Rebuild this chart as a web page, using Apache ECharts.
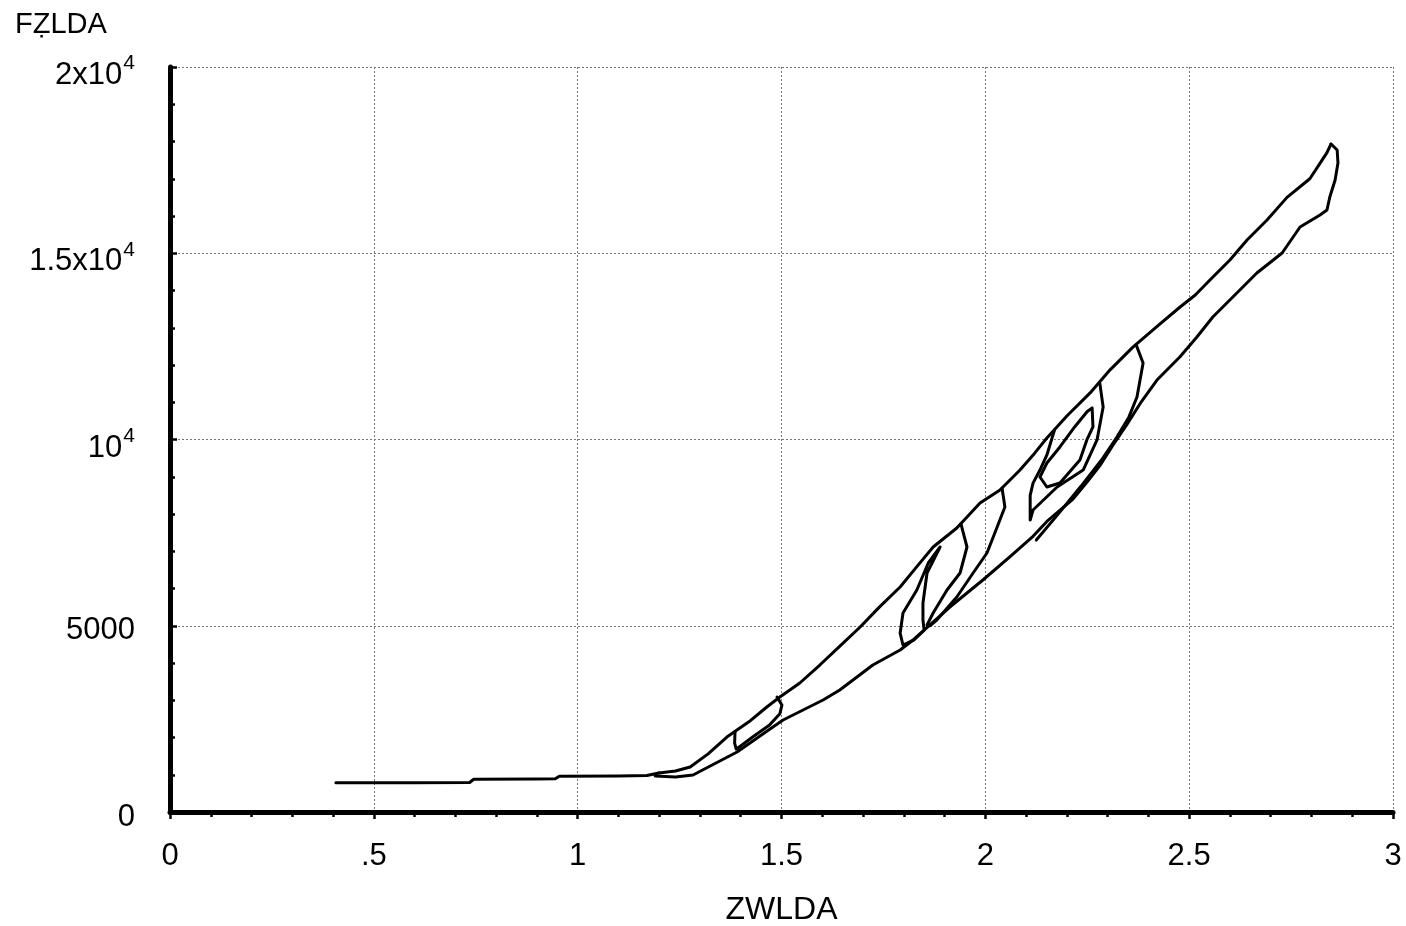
<!DOCTYPE html>
<html>
<head>
<meta charset="utf-8">
<script src="https://cdn.jsdelivr.net/npm/echarts@6/dist/echarts.min.js"></script>
<style>
html,body{margin:0;padding:0;background:#fff;}
#chart{width:1406px;height:926px;}
</style>
</head>
<body>
<div id="chart"></div>
<script>
// ---- data (ZWLDA, FZLDA) ----
const xTicks = [0, 0.5, 1, 1.5, 2, 2.5, 3];
const xTickLabels = ['0', '.5', '1', '1.5', '2', '2.5', '3'];
const yTicks = [0, 5000, 10000, 15000, 20000];
const yTickLabels = ['0', '5000', '{m|10}{s|4}', '{m|1.5x10}{s|4}', '{m|2x10}{s|4}'];

const baseFlat = [[0.407,785],[0.60,788],[0.735,792],[0.745,880],[0.90,886],[0.945,892],[0.955,962],[1.10,968],[1.17,978],[1.199,1047]];
const upperBranch = [[1.199,1047],[1.240,1100],[1.276,1208],[1.320,1560],[1.366,2013],[1.420,2420],[1.464,2819],[1.496,3087],[1.545,3463],[1.594,3946],[1.640,4420],[1.693,4967],[1.740,5500],[1.791,6040],[1.830,6560],[1.872,7114],[1.930,7624],[1.987,8295],[2.036,8644],[2.085,9181],[2.120,9620],[2.151,10040],[2.200,10630],[2.257,11250],[2.306,11870],[2.362,12480],[2.425,13070],[2.477,13550],[2.515,13880],[2.551,14282],[2.600,14819],[2.642,15356],[2.691,15893],[2.740,16500],[2.796,17000],[2.820,17400],[2.838,17700],[2.848,17933]];
const lowerBranch = [[2.848,17933],[2.863,17772],[2.865,17423],[2.858,16967],[2.845,16510],[2.838,16161],[2.821,16027],[2.772,15705],[2.728,15007],[2.666,14470],[2.617,13933],[2.558,13289],[2.519,12752],[2.477,12215],[2.421,11597],[2.383,11020],[2.347,10400],[2.313,9850],[2.281,9300],[2.249,8850],[2.215,8400],[2.151,7800],[2.117,7400],[2.060,6846],[1.994,6228],[1.913,5503],[1.823,4618],[1.791,4349],[1.724,3946],[1.643,3275],[1.602,3007],[1.504,2470],[1.479,2282],[1.391,1611],[1.283,993],[1.240,940],[1.19,968]];
const loop1 = [[1.489,3087],[1.501,2870],[1.496,2640],[1.470,2330],[1.430,2020],[1.398,1760],[1.389,1690],[1.385,1850],[1.386,2150]];
const loop2 = [[1.889,7114],[1.860,6685],[1.832,5960],[1.798,5342],[1.791,4800],[1.798,4483],[1.825,4620],[1.850,4880],[1.847,5154],[1.847,5611],[1.857,6416],[1.889,7114]];
const loop3 = [[1.940,7740],[1.955,7114],[1.938,6416],[1.906,5960],[1.872,5342],[1.857,5020]];
const loop4 = [[2.041,8700],[2.048,8188],[2.029,7651],[2.004,6953],[1.970,6416],[1.930,5772],[1.881,5154],[1.864,5000]];
const loop5 = [[2.281,11500],[2.289,10873],[2.274,9987],[2.240,9181],[2.176,8725],[2.117,8107],[2.110,7839],[2.110,8500],[2.117,8830],[2.134,9180],[2.151,9584],[2.170,10270]];
const loop6 = [[2.262,10846],[2.264,10336],[2.249,9987],[2.232,9450],[2.183,8832],[2.151,8725],[2.134,8993],[2.151,9369],[2.183,9800],[2.220,10350],[2.250,10750],[2.262,10846]];
const loop7 = [[2.370,12540],[2.387,12054],[2.372,11141],[2.352,10600],[2.322,10050],[2.285,9450],[2.235,8750],[2.175,7950],[2.125,7300]];

const paths = [baseFlat, upperBranch, lowerBranch, loop1, loop2, loop3, loop4, loop5, loop6, loop7];

const chart = echarts.init(document.getElementById('chart'), null, {renderer: 'canvas'});
const FONT = '"Liberation Sans", Arial, Helvetica, sans-serif';
const axisColor = '#000';

const option = {
  animation: false,
  backgroundColor: '#fff',
  title: {
    text: 'FẒLDA',
    left: 10,
    top: 5,
    textStyle: {fontFamily: FONT, fontSize: 29, fontWeight: 'normal', color: '#000'}
  },
  grid: {left: 170, right: 13, top: 67, bottom: 114, containLabel: false, outerBoundsMode: 'none'},
  xAxis: {
    type: 'value',
    min: 0, max: 3, interval: 0.5,
    name: 'ZWLDA',
    nameLocation: 'middle',
    nameGap: 82,
    nameTextStyle: {fontFamily: FONT, fontSize: 32, color: '#000', verticalAlign: 'top'},
    axisLine: {show: true, onZero: false, lineStyle: {color: axisColor, width: 5}},
    axisTick: {show: true, inside: false, length: 7, lineStyle: {color: axisColor, width: 2.5}},
    minorTick: {show: true, splitNumber: 5, length: 5, lineStyle: {color: axisColor, width: 2.5}},
    axisLabel: {
      fontFamily: FONT, fontSize: 31, color: '#000', margin: 29,
      formatter: function (v) { const i = xTicks.findIndex(t => Math.abs(t - v) < 1e-9); return i >= 0 ? xTickLabels[i] : ''; }
    },
    splitLine: {show: true, lineStyle: {color: '#777', width: 1, type: [2, 2]}},
    minorSplitLine: {show: false}
  },
  yAxis: {
    type: 'value',
    min: 0, max: 20000, interval: 5000,
    axisLine: {show: true, onZero: false, lineStyle: {color: axisColor, width: 5}},
    axisTick: {show: true, inside: true, length: 7, lineStyle: {color: axisColor, width: 2.5}},
    minorTick: {show: true, splitNumber: 5, length: 5, lineStyle: {color: axisColor, width: 2.5}},
    axisLabel: {
      fontFamily: FONT, fontSize: 31, color: '#000', margin: 35, padding: [10, 0, 0, 0],
      formatter: function (v) { const i = yTicks.findIndex(t => Math.abs(t - v) < 1e-6); return i >= 0 ? yTickLabels[i] : ''; },
      rich: {
        m: {fontFamily: FONT, fontSize: 31, color: '#000', lineHeight: 38, verticalAlign: 'bottom'},
        s: {fontFamily: FONT, fontSize: 21, color: '#000', lineHeight: 38, verticalAlign: 'top', padding: [0, 0, 0, 1]}
      }
    },
    splitLine: {show: true, lineStyle: {color: '#777', width: 1, type: [2, 2]}},
    minorSplitLine: {show: false}
  },
  series: paths.map(function (p) {
    return {
      type: 'line',
      data: p,
      showSymbol: false,
      symbol: 'none',
      smooth: false,
      lineStyle: {color: '#000', width: 3, join: 'round', cap: 'round'},
      z: 3
    };
  })
};
chart.setOption(option);
</script>
</body>
</html>
